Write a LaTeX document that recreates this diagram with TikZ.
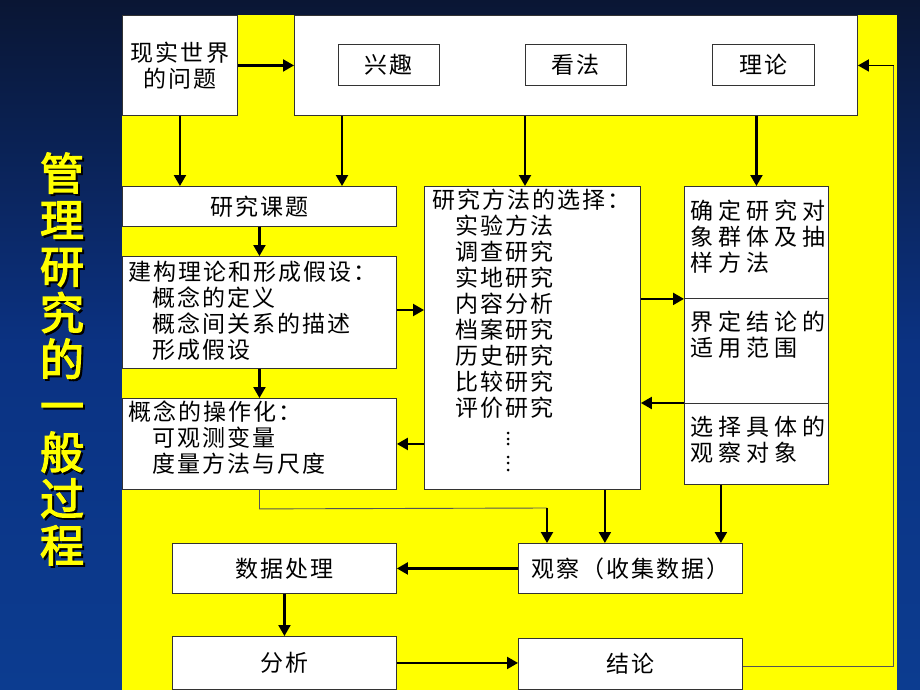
\documentclass[tikz,border=0pt]{standalone}
\usepackage{fontspec}
\usetikzlibrary{arrows.meta,calc}
\newfontfamily\cjk{Noto Sans CJK SC}[LetterSpace=9]
\newfontfamily\cjkr{Noto Sans CJK SC}[LetterSpace=22]
\newfontfamily\cjkt{Noto Sans CJK SC}[FakeBold=3]
\definecolor{bgtop}{HTML}{0A1634}
\definecolor{bgmid}{HTML}{0B3282}
\definecolor{bgbot}{HTML}{0C3C90}
\definecolor{panel}{HTML}{FFFF00}
\definecolor{boxline}{HTML}{333333}
\definecolor{thinline}{HTML}{555555}
\tikzset{
  box/.style={draw=boxline, fill=white, line width=0.9pt, inner sep=0pt, anchor=north west,
    font=\cjk\fontsize{23}{26}\selectfont, align=center},
  txt/.style={inner sep=0pt, anchor=north west, align=left, font=\cjk\fontsize{23}{26}\selectfont},
  rtxt/.style={inner sep=0pt, anchor=north west, align=left, font=\cjkr\fontsize{23}{26}\selectfont},
  arr/.style={line width=2.2pt, -{Triangle[length=11pt,width=12pt]}},
  thin/.style={line width=0.9pt, draw=thinline},
  dot/.style={circle, fill=black, inner sep=0pt, minimum size=3pt},
}
\begin{document}
\begin{tikzpicture}[x=1pt,y=-1pt]
\useasboundingbox (0,0) rectangle (920,690);
\shade[top color=bgtop, bottom color=bgbot, middle color=bgmid] (0,0) rectangle (920,690);
\fill[panel] (122,15) rectangle (897,690);

% title
\node[font=\cjkt\fontsize{44}{46.5}\selectfont, text=black, align=center, inner sep=0pt] (titleshadow) at (64,361) {管\\理\\研\\究\\的\\一\\般\\过\\程};
\node[font=\cjkt\fontsize{44}{46.5}\selectfont, text=panel, align=center, inner sep=0pt] (title) at (62,359) {管\\理\\研\\究\\的\\一\\般\\过\\程};

% top row
\node[box, minimum width=115pt, minimum height=100pt] (real) at (122,15) {现实世界\\的问题};
\node[box, minimum width=563pt, minimum height=100pt] (top) at (294,15) {};
\node[box, minimum width=101pt, minimum height=41pt] (xq) at (338,44) {兴趣};
\node[box, minimum width=101pt, minimum height=41pt] (kf) at (525,44) {看法};
\node[box, minimum width=102pt, minimum height=41pt] (ll) at (712,44) {理论};

% left column
\node[box, minimum width=274pt, minimum height=40pt] (topic) at (122,186) {研究课题};
\node[box, minimum width=274pt, minimum height=112pt] (jg) at (122,256) {};
\node[txt] (jgt) at (128,261) {建构理论和形成假设：\\\hspace{24pt}概念的定义\\\hspace{24pt}概念间关系的描述\\\hspace{24pt}形成假设};
\node[box, minimum width=274pt, minimum height=91pt] (cz) at (122,398) {};
\node[txt] (czt) at (128,401) {概念的操作化：\\\hspace{24pt}可观测变量\\\hspace{24pt}度量方法与尺度};

% methods
\node[box, minimum width=216pt, minimum height=303pt] (meth) at (424,186) {};
\node[txt] (metht) at (432,189) {研究方法的选择：\\\hspace{23pt}实验方法\\\hspace{23pt}调查研究\\\hspace{23pt}实地研究\\\hspace{23pt}内容分析\\\hspace{23pt}档案研究\\\hspace{23pt}历史研究\\\hspace{23pt}比较研究\\\hspace{23pt}评价研究};
\foreach \yy [count=\i] in {433,439,444,457,463,470} \node[dot] (d\i) at (508,\yy) {};

% right column
\node[box, minimum width=144pt, minimum height=112pt] (r1) at (684,186) {};
\node[box, minimum width=144pt, minimum height=105pt] (r2) at (684,298) {};
\node[box, minimum width=144pt, minimum height=81pt] (r3) at (684,403) {};
\node[rtxt] (r1t) at (690,200) {确定研究对\\象群体及抽\\样方法};
\node[rtxt] (r2t) at (690,311) {界定结论的\\适用范围};
\node[rtxt] (r3t) at (690,416) {选择具体的\\观察对象};

% bottom
\node[box, minimum width=224pt, minimum height=50pt] (gc) at (518,543) {观察（收集数据）};
\node[box, minimum width=224pt, minimum height=50pt] (sj) at (172,543) {数据处理};
\node[box, minimum width=224pt, minimum height=53pt] (fx) at (172,636) {分析};
\node[box, minimum width=224pt, minimum height=51pt] (jl) at (518,638) {结论};

% arrows top
\draw[arr] (real) -- (top);
\draw[arr] (real.south) -- (real.south |- topic.north);
\coordinate (a3) at ($(top.south west)+(48,0)$);
\draw[arr] (a3) -- (a3 |- topic.north);
\draw[arr] (top.south -| kf.west) -- (meth.north -| kf.west);
\draw[arr] (top.south -| r1.north) -- (r1.north);

% left column arrows
\draw[arr] (topic.south) -- (jg.north);
\draw[arr] (jg.south) -- (cz.north);
\coordinate (a8) at ($(jg.north east)+(0,54)$);
\draw[arr] (a8) -- (a8 -| meth.west);
\draw[arr] (cz.east -| meth.west) -- (cz.east);
\draw[arr] (r1.south west -| meth.east) -- (r1.south west);
\draw[arr] (r3.north west) -- (r3.north west -| meth.east);

% to observation
\coordinate (c1) at ($(cz.south)+(0,19)$);
\coordinate (c2) at ($(gc.north west)+(29,-35)$);
\draw[thin] (cz.south) -- (c1) -- (c2);
\draw[arr] (c2) -- (c2 |- gc.north);
\coordinate (m1) at ($(meth.south east)+(-36,0)$);
\draw[arr] (m1) -- (m1 |- gc.north);
\coordinate (m2) at ($(gc.north east)+(-22,0)$);
\draw[arr] (m2 |- r3.south) -- (m2);

% bottom arrows
\draw[arr] (gc.west) -- (sj.east);
\draw[arr] (sj.south) -- (fx.north);
\draw[arr] (fx.east) -- (fx.east -| jl.west);

% feedback
\coordinate (f1) at ($(jl.east)+(151,2)$);
\coordinate (f2) at (f1 |- top.east);
\draw[thin] (jl.east |- f1) -- (f1) -- (f2);
\draw[arr, line width=1.6pt] (f2) -- (top.east);
\end{tikzpicture}
\end{document}
